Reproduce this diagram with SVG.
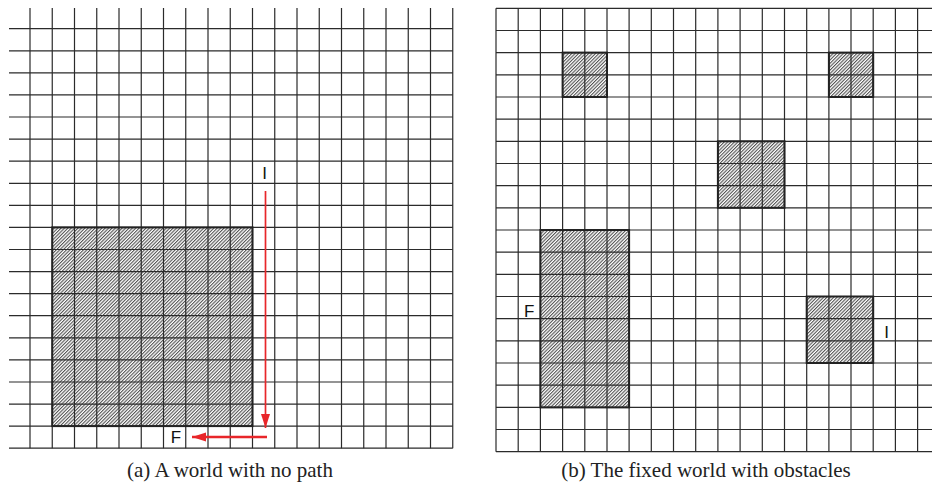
<svg xmlns="http://www.w3.org/2000/svg" width="932" height="491" viewBox="0 0 932 491">
<style>
.grid{fill:none;stroke:#2b2b2b;stroke-width:1.2}
.obs{fill:url(#hatch)}
.obsb{fill:none;stroke:#222;stroke-width:2}
.lbl{font-family:"Liberation Sans",Arial,sans-serif;font-size:17px;fill:#111;text-anchor:middle}
.cap{font-family:"Liberation Serif","Times New Roman",serif;font-size:21px;fill:#222;text-anchor:middle}
.arr{fill:none;stroke:#e8262a}
</style>
<defs>
<pattern id="hatch" patternUnits="userSpaceOnUse" width="2.4" height="10" patternTransform="rotate(45)">
<rect width="2.4" height="10" fill="#fff"/>
<line x1="0.6" y1="0" x2="0.6" y2="10" stroke="#222" stroke-width="0.85"/>
</pattern>
<marker id="ah" markerUnits="userSpaceOnUse" markerWidth="15" markerHeight="10" refX="14" refY="4.5" orient="auto">
<path d="M0,0 L14,4.5 L0,9 z" fill="#e8262a"/>
</marker>
</defs>

<g id="world-a">
<rect class="obs" x="52.25" y="227.4" width="200.25" height="198.7"/>
<path class="grid" d="M30 8V448.2M52.25 8V448.2M74.5 8V448.2M96.75 8V448.2M119 8V448.2M141.25 8V448.2M163.5 8V448.2M185.75 8V448.2M208 8V448.2M230.25 8V448.2M252.5 8V448.2M274.75 8V448.2M297 8V448.2M319.25 8V448.2M341.5 8V448.2M363.75 8V448.2M386 8V448.2M408.25 8V448.2M430.5 8V448.2M452.75 8V448.2"/>
<path class="grid" d="M9 28.7H452.75M9 50.8H452.75M9 72.9H452.75M9 94.9H452.75M9 117H452.75M9 139.1H452.75M9 161.2H452.75M9 183.3H452.75M9 205.3H452.75M9 227.4H452.75M9 249.5H452.75M9 271.6H452.75M9 293.7H452.75M9 315.7H452.75M9 337.8H452.75M9 359.9H452.75M9 382H452.75M9 404.1H452.75M9 426.1H452.75M9 448.2H452.75"/>
<rect class="obsb" x="52.25" y="227.4" width="200.25" height="198.7"/>
<text class="lbl" x="264.7" y="179">I</text>
<text class="lbl" x="176" y="443">F</text>
</g>

<g id="connectors">
<line class="arr" x1="265.5" y1="191" x2="265.5" y2="428" stroke-width="1.7" marker-end="url(#ah)"/>
<line class="arr" x1="267" y1="437" x2="192" y2="437" stroke-width="2.7" marker-end="url(#ah)"/>
</g>

<g id="world-b">
<rect class="obs" x="562.6" y="52.6" width="44.4" height="44.4"/>
<rect class="obs" x="828.9" y="52.6" width="44.3" height="44.4"/>
<rect class="obs" x="717.9" y="141.3" width="66.6" height="66.5"/>
<rect class="obs" x="540.4" y="230" width="88.7" height="177.4"/>
<rect class="obs" x="806.7" y="296.5" width="66.5" height="66.5"/>
<path class="grid" d="M496 8.3V451.7M518.2 8.3V451.7M540.4 8.3V451.7M562.6 8.3V451.7M584.8 8.3V451.7M607 8.3V451.7M629.1 8.3V451.7M651.3 8.3V451.7M673.5 8.3V451.7M695.7 8.3V451.7M717.9 8.3V451.7M740.1 8.3V451.7M762.3 8.3V451.7M784.5 8.3V451.7M806.7 8.3V451.7M828.9 8.3V451.7M851 8.3V451.7M873.2 8.3V451.7M895.4 8.3V451.7M917.6 8.3V451.7"/>
<path class="grid" d="M496 8.3H932M496 30.5H932M496 52.6H932M496 74.8H932M496 97H932M496 119.2H932M496 141.3H932M496 163.5H932M496 185.7H932M496 207.8H932M496 230H932M496 252.2H932M496 274.3H932M496 296.5H932M496 318.7H932M496 340.9H932M496 363H932M496 385.2H932M496 407.4H932M496 429.5H932M496 451.7H932"/>
<rect class="obsb" x="562.6" y="52.6" width="44.4" height="44.4"/>
<rect class="obsb" x="828.9" y="52.6" width="44.3" height="44.4"/>
<rect class="obsb" x="717.9" y="141.3" width="66.6" height="66.5"/>
<rect class="obsb" x="540.4" y="230" width="88.7" height="177.4"/>
<rect class="obsb" x="806.7" y="296.5" width="66.5" height="66.5"/>
<text class="lbl" x="529.1" y="317">F</text>
<text class="lbl" x="886.7" y="338">I</text>
</g>

<text class="cap" x="230" y="477">(a) A world with no path</text>
<text class="cap" x="706" y="477">(b) The fixed world with obstacles</text>
</svg>
